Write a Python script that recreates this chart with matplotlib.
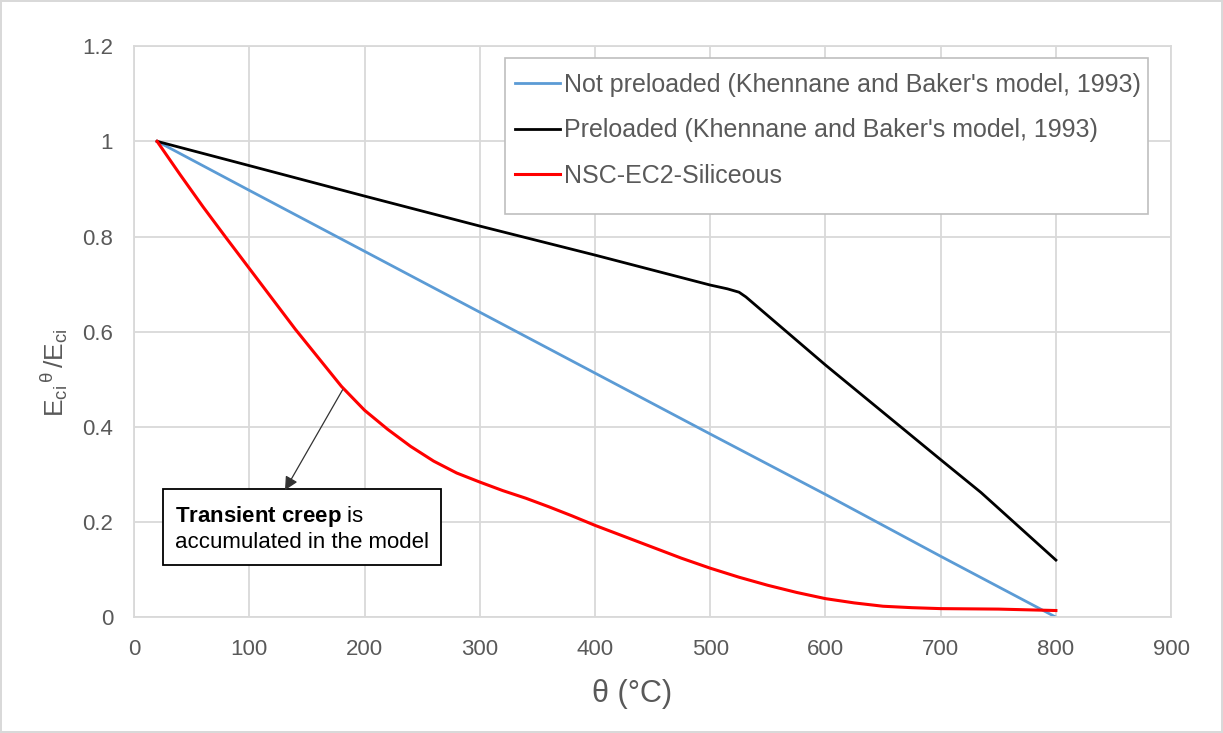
import matplotlib
matplotlib.use('Agg')
from matplotlib import pyplot as plt
from matplotlib.patches import Rectangle

plt.rcParams['font.family'] = ['Liberation Sans', 'DejaVu Sans']
plt.rcParams['mathtext.fontset'] = 'custom'
plt.rcParams['mathtext.rm'] = 'Liberation Sans'
plt.rcParams['mathtext.it'] = 'Liberation Sans:italic'
plt.rcParams['mathtext.bf'] = 'Liberation Sans:bold'

# values
temp_blue = [20, 100, 200, 300, 400, 500, 600, 700, 800]
not_preloaded = [1.0, 0.897, 0.769, 0.641, 0.513, 0.385, 0.258, 0.128, 0.0]

temp_black = [20, 100, 200, 300, 400, 500, 515, 525, 531, 600, 700, 735, 800]
preloaded = [1.0, 0.949, 0.885, 0.822, 0.761, 0.698, 0.69, 0.683, 0.673,
             0.53, 0.331, 0.262, 0.12]

temp_red = [20, 40, 60, 80, 100, 120, 140, 160, 180, 200, 220, 240, 260, 280,
            300, 320, 340, 360, 380, 400, 425, 450, 475, 500, 525, 550, 575,
            600, 625, 650, 675, 700, 750, 800]
ec2_siliceous = [1.0, 0.93, 0.862, 0.797, 0.733, 0.669, 0.605, 0.545, 0.485,
                 0.435, 0.395, 0.359, 0.328, 0.303, 0.284, 0.266, 0.25, 0.232,
                 0.213, 0.193, 0.17, 0.147, 0.124, 0.103, 0.084, 0.067, 0.052,
                 0.039, 0.03, 0.023, 0.02, 0.018, 0.017, 0.014]

labels = ["Not preloaded (Khennane and Baker's model, 1993)",
          "Preloaded (Khennane and Baker's model, 1993)",
          "NSC-EC2-Siliceous"]

grid_col = '#d9d9d9'
txt_col = '#595959'

fig = plt.figure(figsize=(12.23, 7.33), dpi=100)
fig.patch.set_edgecolor(grid_col)
fig.patch.set_linewidth(1.5)
ax = fig.add_axes([0.1096, 0.158, 0.848, 0.779])

ax.plot(temp_blue, not_preloaded, color='#5b9bd5', lw=2.0, label=labels[0])
ax.plot(temp_black, preloaded, color='black', lw=2.0, label=labels[1])
ax.plot(temp_red, ec2_siliceous, color='#ff0000', lw=2.2, label=labels[2],
        solid_joinstyle='round')

ax.set_xlim(0, 900)
ax.set_ylim(0, 1.2)
ax.set_xticks(range(0, 901, 100))
ax.set_yticks([0, 0.2, 0.4, 0.6, 0.8, 1.0, 1.2])
ax.set_yticklabels(['0', '0.2', '0.4', '0.6', '0.8', '1', '1.2'])
ax.grid(True, color=grid_col, lw=1.3)
ax.set_axisbelow(True)
for s in ax.spines.values():
    s.set_color(grid_col)
    s.set_linewidth(1.3)
ax.tick_params(length=0, labelsize=16, colors=txt_col)
ax.tick_params(axis='x', pad=16)
ax.tick_params(axis='y', pad=15)

ax.set_xlabel('\u03b8 (\u00b0C)', fontsize=22, color=txt_col)
ax.xaxis.set_label_coords(0.480, -0.108)
ax.set_ylabel(r'$\mathregular{E_{ci}{}^{\,\theta}\,/E_{ci}}$', fontsize=19,
              color=txt_col)
ax.yaxis.set_label_coords(-0.062, 0.429)

# Excel-style legend box (more room below the last entry)
ax.add_patch(Rectangle((0.3578, 0.706), 0.978 - 0.3578, 0.979 - 0.706,
                       transform=ax.transAxes, fc='white', ec='#bfbfbf',
                       lw=1.2, zorder=4))
leg = ax.legend(loc='upper left', bbox_to_anchor=(0.3674, 0.953),
                borderaxespad=0, borderpad=0, fontsize=18, frameon=False,
                handlelength=1.8, handletextpad=0.15, labelspacing=0.85)
leg.set_zorder(5)
for t in leg.get_texts():
    t.set_color(txt_col)

ax.text(35.6, 0.187, r'$\bf{Transient\ creep}$ is' + '\naccumulated in the model',
        fontsize=16, color='black', va='center', ha='left',
        bbox=dict(boxstyle='square,pad=0.55', fc='white', ec='black', lw=1.3))
ax.annotate('', xy=(131, 0.267), xytext=(181, 0.478),
            arrowprops=dict(arrowstyle='-|>', color='#333333', lw=0.9,
                            mutation_scale=20, shrinkA=0, shrinkB=0))

fig.savefig('out.png', dpi=100)
